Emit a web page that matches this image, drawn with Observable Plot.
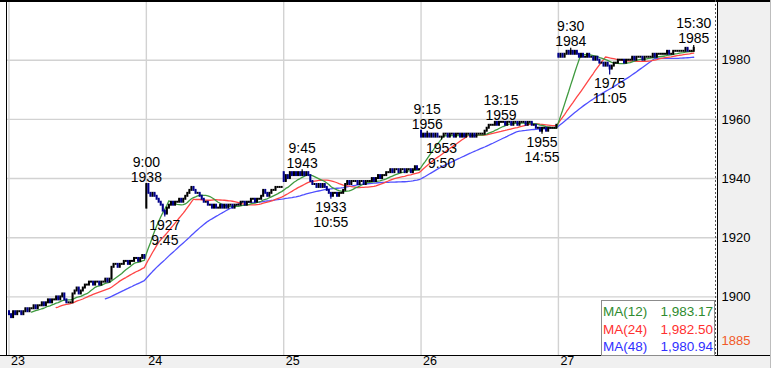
<!DOCTYPE html>
<html><head><meta charset="utf-8">
<script src="https://cdn.jsdelivr.net/npm/d3@7"></script>
<script src="https://cdn.jsdelivr.net/npm/@observablehq/plot@0.6"></script>
<style>
html,body{margin:0;padding:0;background:#fff;}
#wrap{position:relative;width:771px;height:368px;overflow:hidden;}
#wrap svg{display:block;}
#legend{position:absolute;left:601px;top:300px;width:114px;height:56px;border:1px solid #8c8c8c;background:#fff;font:13.5px "Liberation Sans",Arial,sans-serif;box-sizing:border-box;}
#legend .row{position:absolute;left:1px;right:1px;height:17px;line-height:17px;white-space:nowrap;}
#legend .v{position:absolute;right:0;top:0;}
</style></head><body><div id="wrap"></div>
<script>
// ---- data ----
const dates = ["23","24","25","26","27"];
const barsPerDay = 67; // 9:00-11:25 (30) + 12:30-15:30 (37), 5-minute bars
const dayOpen = [1895, 1930, 1942, 1956, 1982];
const close23 = [1894,1893,1895,1894,1895,1895,1894,1895,1896,1895,
  1896,1896,1897,1896,1897,1897,1898,1897,1898,1899,
  1898,1899,1899,1900,1899,1900,1901,1899,1898,1898,
  1898,1901,1902,1903,1901,1902,1903,1904,1904,1905,
  1905,1904,1905,1905,1904,1905,1905,1906,1905,1906,
  1910,1911,1911,1910,1911,1911,1912,1912,1911,1912,
  1912,1913,1913,1912,1913,1914,1913];
const close24 = [1938,1935,1934,1935,1934,1933,1932,1931,1929,1928,
  1930,1931,1932,1931,1932,1932,1933,1932,1933,1934,
  1935,1936,1937,1936,1935,1935,1934,1933,1932,1932,
  1931,1931,1930,1931,1930,1930,1931,1930,1931,1930,
  1931,1931,1930,1931,1931,1931,1932,1932,1931,1932,
  1932,1933,1933,1932,1933,1933,1934,1936,1935,1934,
  1935,1936,1936,1937,1937,1937,1937];
const close25 = [1939,1941,1940,1942,1941,1942,1941,1942,1941,1942,
  1941,1942,1941,1939,1938,1938,1937,1938,1937,1938,
  1937,1936,1935,1934,1935,1935,1934,1935,1935,1936,
  1938,1939,1938,1939,1939,1939,1938,1939,1939,1938,
  1939,1939,1939,1940,1939,1940,1941,1940,1941,1941,
  1942,1942,1943,1942,1943,1943,1942,1943,1943,1942,
  1943,1943,1942,1943,1944,1943,1943];
const close26 = [1954,1955,1954,1955,1954,1955,1954,1955,1954,1954,
  1954,1955,1955,1954,1955,1955,1954,1955,1955,1954,
  1955,1954,1955,1955,1954,1955,1954,1955,1955,1955,
  1955,1956,1957,1958,1958,1958,1959,1958,1959,1959,
  1959,1958,1959,1959,1958,1959,1959,1958,1959,1959,
  1959,1958,1959,1959,1958,1958,1957,1957,1956,1957,
  1957,1956,1957,1957,1957,1957,1958];
const close27 = [1981,1982,1981,1982,1983,1982,1983,1982,1983,1982,
  1981,1982,1981,1981,1982,1981,1981,1980,1981,1980,
  1979,1979,1978,1979,1978,1977,1978,1979,1979,1980,
  1980,1980,1979,1980,1980,1980,1981,1980,1981,1981,
  1981,1980,1981,1981,1981,1981,1982,1981,1982,1982,
  1982,1982,1982,1983,1982,1982,1983,1983,1983,1983,
  1983,1983,1984,1983,1983,1983,1984];
// daily high / low annotations
const annDay   = [1,1,2,2,3,3,3,3,4,4,4];
const annBar   = [0,9,9,23,3,10,39,59,6,25,66];
const annTime  = ["9:00","9:45","9:45","10:55","9:15","9:50","13:15","14:55","9:30","11:05","15:30"];
const annPrice = [1938,1927,1943,1933,1956,1953,1959,1955,1984,1975,1985];
const annKind  = ["high","low","high","low","high","low","high","low","high","low","high"];
// moving averages
const maPeriods = [12, 24, 48];
const maNames = ["MA(12)", "MA(24)", "MA(48)"];
const maLast = ["1,983.17", "1,982.50", "1,980.94"];
const maLineColors = ["#3f9a3f", "#ff4646", "#5050ff"];
const maTextColors = ["#2e8b2e", "#ff3030", "#3030ff"];
const yTicks = [1900, 1920, 1940, 1960, 1980];
const yMarker = [1885];

// ---- build tables ----
const days = [close23, close24, close25, close26, close27];
const bars = [];
days.forEach((cl, d) => cl.forEach((c, j) => {
  const o = j === 0 ? dayOpen[d] : cl[j - 1];
  bars.push({i: d * barsPerDay + j, o, c, hi: Math.max(o, c), lo: Math.min(o, c)});
}));
const ann = annDay.map((d, k) => ({i: d * barsPerDay + annBar[k], time: annTime[k], price: annPrice[k], kind: annKind[k]}));
ann.forEach(a => {
  const b = bars[a.i];
  if (a.kind === "high") b.hi = Math.max(b.hi, a.price); else b.lo = Math.min(b.lo, a.price);
});
const ma = maPeriods.map(k => {
  const out = [];
  for (let t = k - 1; t < bars.length; t++) {
    let s = 0; for (let u = t - k + 1; u <= t; u++) s += bars[u].c;
    out.push({i: t, v: s / k});
  }
  return out;
});
const up = bars.filter(b => b.c >= b.o), down = bars.filter(b => b.c < b.o);
const dayStarts = dates.map((_, d) => d * barsPerDay);

const W = 771, H = 368, mL = 7, mR = 54, mT = 2, mB = 13;
const plot = Plot.plot({
  width: W, height: H,
  marginLeft: mL, marginRight: mR, marginTop: mT, marginBottom: mB,
  style: {fontFamily: "'Liberation Sans', Arial, sans-serif", background: "#f0f0f0", overflow: "visible"},
  x: {type: "linear", domain: [-0.73, 345.6], axis: null, label: null},
  y: {type: "linear", domain: [1880.2, 1999.5], axis: null, label: null},
  marks: [
    Plot.gridX(dayStarts, {stroke: "#d2d2d2", strokeOpacity: 1, strokeWidth: 1.4}),
    Plot.gridY(yTicks, {stroke: "#d2d2d2", strokeOpacity: 1, strokeWidth: 1.4}),
    Plot.axisX(dayStarts, {anchor: "bottom", label: null, tickSize: 0, tickPadding: 1, textAnchor: "start", dx: 2, fontSize: 12.5, fill: "#000", tickFormat: d => dates[d / barsPerDay]}),
    Plot.axisY(yTicks, {anchor: "right", label: null, tickSize: 0, tickPadding: 4, fontSize: 13, fill: "#000", tickFormat: d => String(d)}),
    Plot.text(yMarker, {y: d => d, text: d => String(d), frameAnchor: "right", textAnchor: "start", dx: 4, fontSize: 13, fill: "#f05a28"}),
    ...maPeriods.map((k, s) => Plot.line(ma[s], {x: "i", y: "v", stroke: maLineColors[s], strokeWidth: 1.3})).reverse(),
    Plot.ruleX(up, {x: "i", y1: "lo", y2: "hi", stroke: "#000", strokeWidth: 1.2}),
    Plot.ruleX(down, {x: "i", y1: "lo", y2: "hi", stroke: "#00008b", strokeWidth: 1.2}),
    Plot.ruleX(up, {x: "i", y1: "o", y2: "c", stroke: "#000", strokeWidth: 2, strokeLinecap: "square"}),
    Plot.ruleX(down, {x: "i", y1: "o", y2: "c", stroke: "#00008b", strokeWidth: 2, strokeLinecap: "square"}),
    Plot.text(ann.filter(a => a.kind === "high"), {x: "i", y: "price", text: a => a.time + "\n" + a.price, lineAnchor: "bottom", dy: -2, fontSize: 14, lineHeight: 1.08, fill: "#000"}),
    Plot.text(ann.filter(a => a.kind === "low"), {x: "i", y: "price", text: a => a.price + "\n" + a.time, lineAnchor: "top", dy: 2, fontSize: 14, lineHeight: 1.08, fill: "#000"})
  ]
});
const wrap = document.getElementById("wrap");
wrap.appendChild(plot);
// chart chrome: white plot panel and borders
const svg = d3.select(plot);
svg.insert("rect", ":first-child").attr("x", 0).attr("y", 0).attr("width", W - mR).attr("height", H - mB).attr("fill", "#fff");
const g = svg.append("g").attr("fill", "none");
g.append("line").attr("x1", 0).attr("x2", W).attr("y1", 1).attr("y2", 1).attr("stroke", "#000").attr("stroke-width", 2);
g.append("line").attr("x1", 0).attr("x2", W).attr("y1", H - mB + 0.5).attr("y2", H - mB + 0.5).attr("stroke", "#000");
g.append("line").attr("x1", mL - 0.5).attr("x2", mL - 0.5).attr("y1", 0).attr("y2", H - mB).attr("stroke", "#000");
g.append("line").attr("x1", W - mR - 1.5).attr("x2", W - mR - 1.5).attr("y1", 0).attr("y2", H - mB).attr("stroke", "#555").attr("stroke-dasharray", "2,2");
g.append("line").attr("x1", W - mR + 0.5).attr("x2", W - mR + 0.5).attr("y1", 0).attr("y2", H - mB).attr("stroke", "#000");
g.append("line").attr("x1", W - 0.5).attr("x2", W - 0.5).attr("y1", 0).attr("y2", H).attr("stroke", "#bdbdbd");
// legend
const lg = document.createElement("div");
lg.id = "legend";
maNames.forEach((n, s) => {
  const r = document.createElement("div");
  r.className = "row"; r.style.top = (2 + s * 17.5) + "px"; r.style.color = maTextColors[s];
  r.innerHTML = n + '<span class="v">' + maLast[s] + "</span>";
  lg.appendChild(r);
});
wrap.appendChild(lg);
</script></body></html>
